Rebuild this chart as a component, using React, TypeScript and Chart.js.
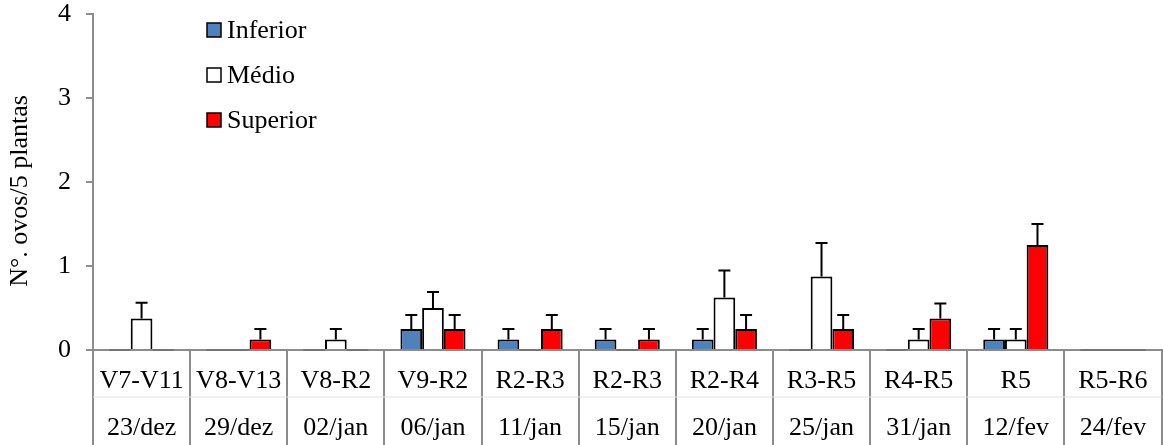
import React, { useEffect, useRef } from "react";
import { Chart, registerables } from "chart.js";

Chart.register(...registerables);

const stages = ["V7-V11", "V8-V13", "V8-R2", "V9-R2", "R2-R3", "R2-R3", "R2-R4", "R3-R5", "R4-R5", "R5", "R5-R6"];
const dates = ["23/dez", "29/dez", "02/jan", "06/jan", "11/jan", "15/jan", "20/jan", "25/jan", "31/jan", "12/fev", "24/fev"];

const inferior = [0, 0, 0, 0.25, 0.125, 0.125, 0.125, 0, 0, 0.125, 0];
const inferiorErr = [0, 0, 0, 0.167, 0.125, 0.125, 0.125, 0, 0, 0.125, 0];
const medio = [0.375, 0, 0.125, 0.5, 0, 0, 0.625, 0.875, 0.125, 0.125, 0];
const medioErr = [0.188, 0, 0.125, 0.19, 0, 0, 0.32, 0.4, 0.125, 0.125, 0];
const superior = [0, 0.125, 0, 0.25, 0.25, 0.125, 0.25, 0.25, 0.375, 1.25, 0];
const superiorErr = [0, 0.125, 0, 0.167, 0.167, 0.125, 0.167, 0.167, 0.18, 0.25, 0];

const yMin = 0;
const yMax = 4;
const yStep = 1;
const yTitle = "N°. ovos/5 plantas";

const seriesNames = ["Inferior", "Médio", "Superior"];
const seriesColors = ["#4F81BD", "#FFFFFF", "#FF0000"];

const FONT = "'Liberation Serif', 'Times New Roman', serif";
const GRAY = "#8c8c8c";

const errorBarsPlugin = {
  id: "errorBars",
  afterDatasetsDraw(chart: any) {
    const ctx = chart.ctx;
    const yScale = chart.scales.y;
    ctx.save();
    chart.data.datasets.forEach((ds: any, di: number) => {
      const meta = chart.getDatasetMeta(di);
      meta.data.forEach((el: any, i: number) => {
        const v = ds.data[i];
        const e = ds.errors ? ds.errors[i] : 0;
        if (v === 0) {
          ctx.strokeStyle = "#6e6e6e";
          ctx.lineWidth = 1.5;
          ctx.beginPath();
          ctx.moveTo(el.x - el.width / 2, el.base);
          ctx.lineTo(el.x + el.width / 2, el.base);
          ctx.stroke();
          return;
        }
        if (!e) return;
        const yTop = yScale.getPixelForValue(v + e);
        ctx.strokeStyle = "#000";
        ctx.lineWidth = 2;
        ctx.beginPath();
        ctx.moveTo(el.x, el.y);
        ctx.lineTo(el.x, yTop);
        ctx.moveTo(el.x - 6, yTop);
        ctx.lineTo(el.x + 6, yTop);
        ctx.stroke();
      });
    });
    ctx.restore();
  },
};

const tablePlugin = {
  id: "tableLines",
  afterDraw(chart: any) {
    const ctx = chart.ctx;
    const area = chart.chartArea;
    ctx.save();
    ctx.strokeStyle = "#e2e2e2";
    ctx.lineWidth = 1;
    ctx.beginPath();
    ctx.moveTo(area.left, 397);
    ctx.lineTo(area.right, 397);
    ctx.stroke();
    // y axis title
    ctx.translate(20, 191);
    ctx.rotate(-Math.PI / 2);
    ctx.font = `26px ${FONT}`;
    ctx.fillStyle = "#000";
    ctx.textAlign = "center";
    ctx.textBaseline = "middle";
    ctx.fillText(yTitle, 0, 0);
    ctx.restore();
  },
};

const legendPlugin = {
  id: "innerLegend",
  afterDraw(chart: any) {
    const ctx = chart.ctx;
    const area = chart.chartArea;
    const x0 = area.left + 114;
    const rows = [30, 75, 120];
    ctx.save();
    ctx.font = `26px ${FONT}`;
    ctx.textBaseline = "middle";
    ctx.textAlign = "left";
    seriesNames.forEach((name, i) => {
      const y = rows[i];
      ctx.fillStyle = seriesColors[i];
      ctx.fillRect(x0, y - 7, 14, 14);
      ctx.strokeStyle = "#000";
      ctx.lineWidth = 1.5;
      ctx.strokeRect(x0, y - 7, 14, 14);
      ctx.fillStyle = "#000";
      ctx.fillText(name, x0 + 20, y + 1);
    });
    ctx.restore();
  },
};

export default function App() {
  const ref = useRef<HTMLCanvasElement | null>(null);

  useEffect(() => {
    if (!ref.current) return;
    const labels = stages.map((s, i) => [s, dates[i]]);
    const chart = new Chart(ref.current, {
      type: "bar",
      data: {
        labels,
        datasets: [
          { label: seriesNames[0], data: inferior, errors: inferiorErr, backgroundColor: seriesColors[0], borderColor: "#000", borderWidth: 2 } as any,
          { label: seriesNames[1], data: medio, errors: medioErr, backgroundColor: seriesColors[1], borderColor: "#000", borderWidth: 2 } as any,
          { label: seriesNames[2], data: superior, errors: superiorErr, backgroundColor: seriesColors[2], borderColor: "#000", borderWidth: 2 } as any,
        ],
      },
      options: {
        animation: false,
        responsive: false,
        maintainAspectRatio: false,
        layout: { padding: { top: 14, right: 1.5, left: 0, bottom: 0 } },
        datasets: { bar: { categoryPercentage: 0.67, barPercentage: 1.0 } },
        plugins: {
          legend: { display: false },
          tooltip: { enabled: false },
        },
        scales: {
          x: {
            offset: true,
            grid: {
              display: true,
              drawOnChartArea: false,
              drawTicks: true,
              tickLength: 95,
              color: GRAY,
              lineWidth: 2,
              offset: true,
            },
            border: { color: GRAY, width: 2 },
            ticks: {
              font: { family: FONT, size: 26, lineHeight: 1.81 },
              color: "#000",
              padding: -87,
              maxRotation: 0,
              minRotation: 0,
              autoSkip: false,
            },
            afterFit: (s: any) => {
              s.height = 95;
              s.paddingLeft = 0;
              s.paddingRight = 0;
            },
          },
          y: {
            min: yMin,
            max: yMax,
            ticks: {
              stepSize: yStep,
              font: { family: FONT, size: 26, lineHeight: 1.08 },
              color: "#000",
              padding: 15,
            },
            grid: { drawOnChartArea: false, tickLength: 7, color: GRAY, lineWidth: 2 },
            border: { color: GRAY, width: 2 },
            title: { display: false },
            afterFit: (s: any) => {
              s.width = 93;
              s.paddingTop = 0;
              s.paddingBottom = 0;
            },
          },
        },
      },
      plugins: [errorBarsPlugin, tablePlugin, legendPlugin],
    } as any);
    return () => chart.destroy();
  }, []);

  return (
    <div style={{ position: "absolute", left: 0, top: 0, width: 1163, height: 445, background: "#fff" }}>
      <canvas ref={ref} width={1163} height={445} style={{ width: 1163, height: 445, display: "block" }} />
    </div>
  );
}
